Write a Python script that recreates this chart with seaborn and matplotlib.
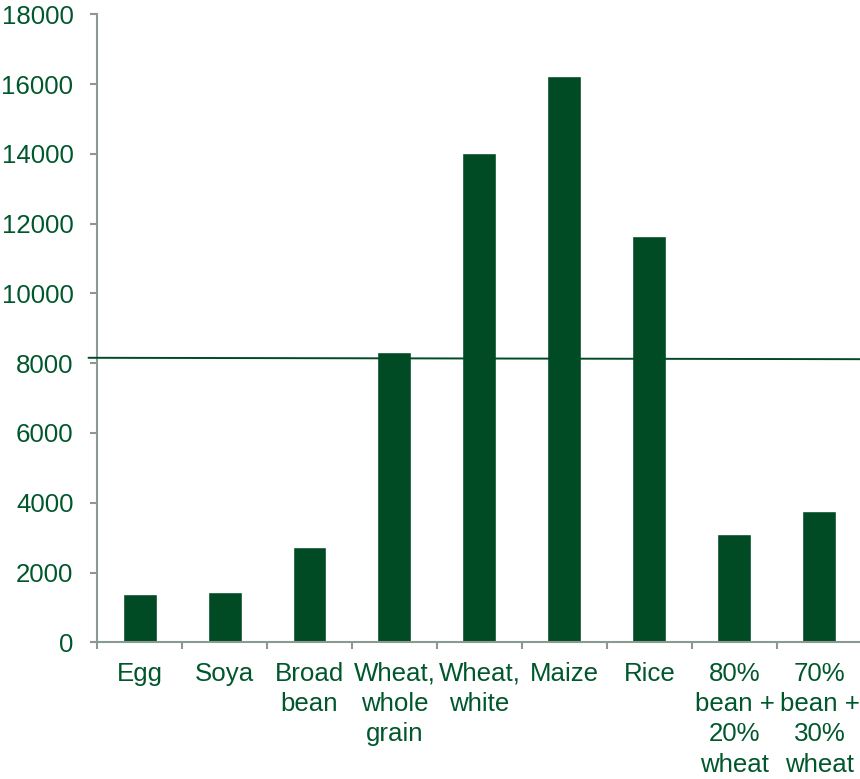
import matplotlib
matplotlib.use("Agg")
import matplotlib.pyplot as plt
import seaborn as sns
import pandas as pd
from matplotlib.ticker import FixedLocator

# Land use per food, with a reference level drawn across the chart
foods = ["Egg", "Soya", "Broad\nbean", "Wheat,\nwhole\ngrain", "Wheat,\nwhite",
         "Maize", "Rice", "80%\nbean +\n20%\nwheat", "70%\nbean +\n30%\nwheat"]
values = [1375, 1450, 2730, 8310, 14020, 16235, 11660, 3090, 3750]
reference_level = [8155, 8115]  # value at left and right end of the line
y_ticks = [0, 2000, 4000, 6000, 8000, 10000, 12000, 14000, 16000, 18000]

bar_color = "#004b24"
text_color = "#00572c"
axis_color = "#8a9a90"

sns.set_theme(style="white")
plt.rcParams["font.family"] = ["Liberation Sans", "DejaVu Sans"]

fig = plt.figure(figsize=(8.6, 7.79), dpi=100)
ax = fig.add_axes([0.1128, 0.1755, 0.8895, 0.8061])

df = pd.DataFrame({"food": foods, "value": values})
sns.barplot(data=df, x="food", y="value", color=bar_color, saturation=1,
            width=0.4, ax=ax, zorder=2)

ax.set_xlim(-0.5, len(foods) - 0.5)
ax.set_ylim(y_ticks[0], y_ticks[-1])

# reference line, running slightly past the left spine
x0, x1 = -0.6, len(foods) - 0.5
ax.plot([x0, x1], reference_level, color=bar_color, lw=1.4, clip_on=False, zorder=3)

ax.set_xlabel("")
ax.set_ylabel("")
ax.yaxis.set_major_locator(FixedLocator(y_ticks))
ax.xaxis.set_minor_locator(FixedLocator([i - 0.5 for i in range(len(foods) + 1)]))

for side in ["top", "right"]:
    ax.spines[side].set_visible(False)
for side in ["left", "bottom"]:
    ax.spines[side].set_color(axis_color)
    ax.spines[side].set_linewidth(1.5)

ax.tick_params(axis="y", which="major", direction="out", length=5, width=1.5,
               color=axis_color, labelsize=18.6, labelcolor=text_color, pad=12, left=True)
ax.tick_params(axis="x", which="major", length=0, labelsize=18.6,
               labelcolor=text_color, pad=14)
ax.tick_params(axis="x", which="minor", direction="out", length=5, width=1.5,
               color=axis_color, bottom=True)
for lab in ax.get_xticklabels():
    lab.set_linespacing(1.33)

fig.savefig("out.png", dpi=100, facecolor="white")
